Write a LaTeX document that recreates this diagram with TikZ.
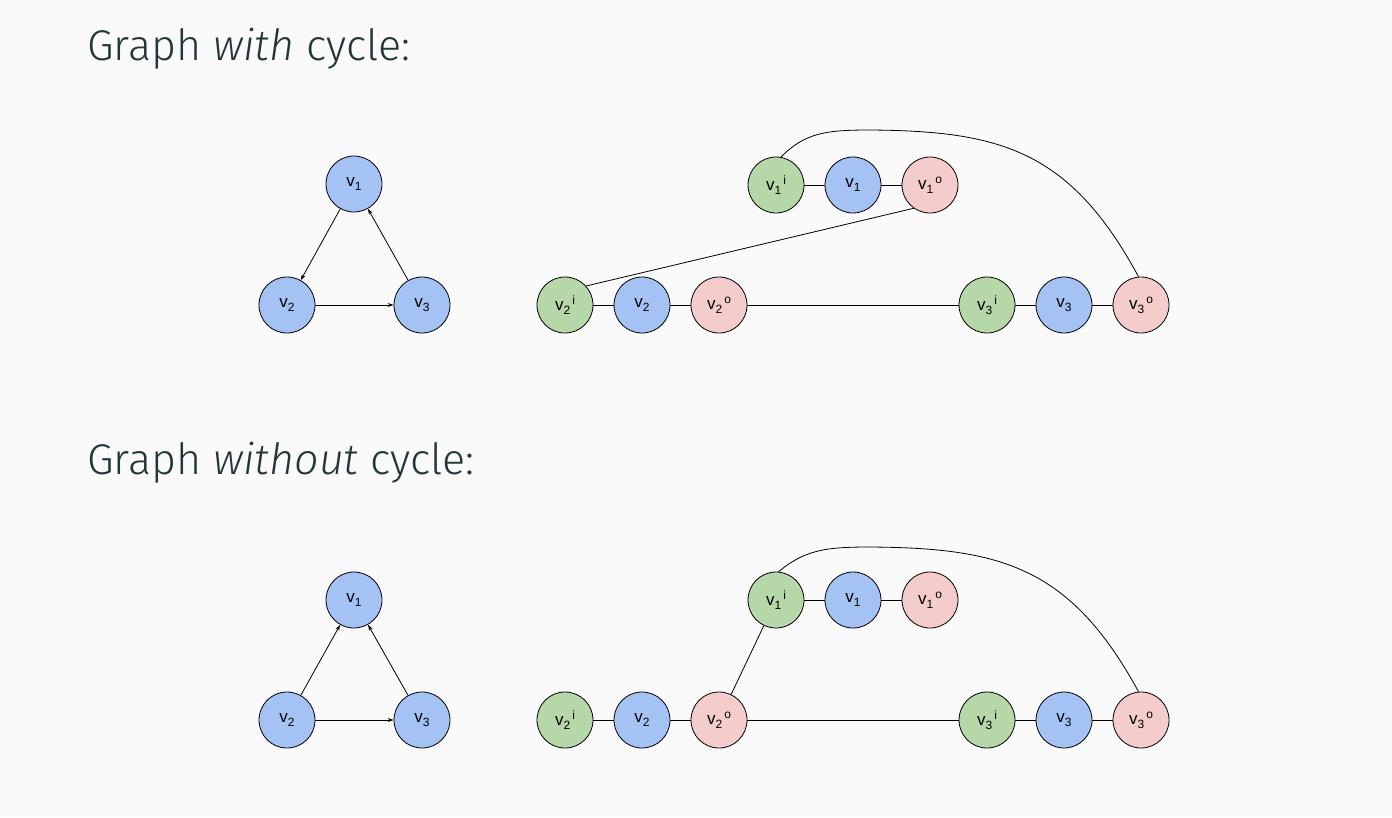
\documentclass[tikz,border=0pt]{standalone}
\usepackage{fontspec}
\setmainfont{Liberation Sans}
\newfontfamily\titlefont{Fira Sans Light}[ItalicFont={Fira Sans Light Italic}]
\usetikzlibrary{arrows.meta}
\definecolor{bg}{HTML}{FAFAFA}
\definecolor{ttl}{HTML}{23373B}
\definecolor{vblue}{HTML}{A4C2F4}
\definecolor{vgreen}{HTML}{B6D7A8}
\definecolor{vpink}{HTML}{F4CCCC}
\tikzset{
  vert/.style={circle, draw=black, line width=0.8pt, minimum size=56pt, inner sep=0pt, font=\fontsize{17}{17}\selectfont},
  bv/.style={vert, fill=vblue},
  gv/.style={vert, fill=vgreen},
  pv/.style={vert, fill=vpink},
  conn/.style={line width=0.8pt, draw=black},
  arr/.style={conn, -{Stealth[length=6pt,width=4pt]}},
  title/.style={anchor=base west, inner sep=0pt, text=ttl, font=\titlefont\fontsize{43}{43}\selectfont}
}
\newcommand{\sbx}[1]{\raisebox{-4pt}{\fontsize{12}{12}\selectfont #1}}
\newcommand{\spx}[1]{\raisebox{6pt}{\fontsize{12}{12}\selectfont #1}}
\newcommand{\vs}[1]{v\sbx{#1}}
\newcommand{\vx}[2]{v\sbx{#1}\hspace{2pt}\spx{#2}}
\begin{document}
\begin{tikzpicture}[x=1pt,y=-1pt]
\fill[bg] (0,0) rectangle (1392,817);
\useasboundingbox (0,0) rectangle (1392,817);

\node[title] (t1) at (87,60) {Graph \textit{with} cycle:};
\node[title] (t2) at (87,474) {Graph \textit{without} cycle:};

% ---- top, left triangle
\node[bv] (a1) at (354,184) {\vs{1}};
\node[bv] (a2) at (287,305) {\vs{2}};
\node[bv] (a3) at (422,305) {\vs{3}};
\draw[arr] (a1) -- (a2);
\draw[arr] (a2) -- (a3);
\draw[arr] (a3) -- (a1);

% ---- top, right split graph
\node[gv] (b1i) at (776,185) {\vx{1}{i}};
\node[bv] (b1)  at (853,185) {\vs{1}};
\node[pv] (b1o) at (930,185) {\vx{1}{o}};
\node[gv] (b2i) at (565,305) {\vx{2}{i}};
\node[bv] (b2)  at (642,305) {\vs{2}};
\node[pv] (b2o) at (719,305) {\vx{2}{o}};
\node[gv] (b3i) at (987,305) {\vx{3}{i}};
\node[bv] (b3)  at (1064,305) {\vs{3}};
\node[pv] (b3o) at (1141,305) {\vx{3}{o}};
\draw[conn] (b1i) -- (b1);
\draw[conn] (b1) -- (b1o);
\draw[conn] (b2i) -- (b2);
\draw[conn] (b2) -- (b2o);
\draw[conn] (b2o) -- (b3i);
\draw[conn] (b3i) -- (b3);
\draw[conn] (b3) -- (b3o);
\draw[conn] (b1o.235) -- (b2i.42);
\draw[conn] (b1i.80) .. controls (805,133) and (825,130) .. (870,130)
  .. controls (1000,131) and (1070,150) .. (b3o.95);

% ---- bottom, left triangle
\node[bv] (c1) at (354,600) {\vs{1}};
\node[bv] (c2) at (287,720) {\vs{2}};
\node[bv] (c3) at (422,720) {\vs{3}};
\draw[arr] (c2) -- (c1);
\draw[arr] (c2) -- (c3);
\draw[arr] (c3) -- (c1);

% ---- bottom, right split graph
\node[gv] (d1i) at (776,600) {\vx{1}{i}};
\node[bv] (d1)  at (853,600) {\vs{1}};
\node[pv] (d1o) at (930,600) {\vx{1}{o}};
\node[gv] (d2i) at (565,720) {\vx{2}{i}};
\node[bv] (d2)  at (642,720) {\vs{2}};
\node[pv] (d2o) at (719,720) {\vx{2}{o}};
\node[gv] (d3i) at (987,720) {\vx{3}{i}};
\node[bv] (d3)  at (1064,720) {\vs{3}};
\node[pv] (d3o) at (1141,720) {\vx{3}{o}};
\draw[conn] (d1i) -- (d1);
\draw[conn] (d1) -- (d1o);
\draw[conn] (d2i) -- (d2);
\draw[conn] (d2) -- (d2o);
\draw[conn] (d2o) -- (d3i);
\draw[conn] (d3i) -- (d3);
\draw[conn] (d3) -- (d3o);
\draw[conn] (d2o) -- (d1i);
\draw[conn] (d1i.85) .. controls (805,550) and (825,547) .. (870,547)
  .. controls (1000,548) and (1070,566) .. (d3o.95);
\end{tikzpicture}
\end{document}
